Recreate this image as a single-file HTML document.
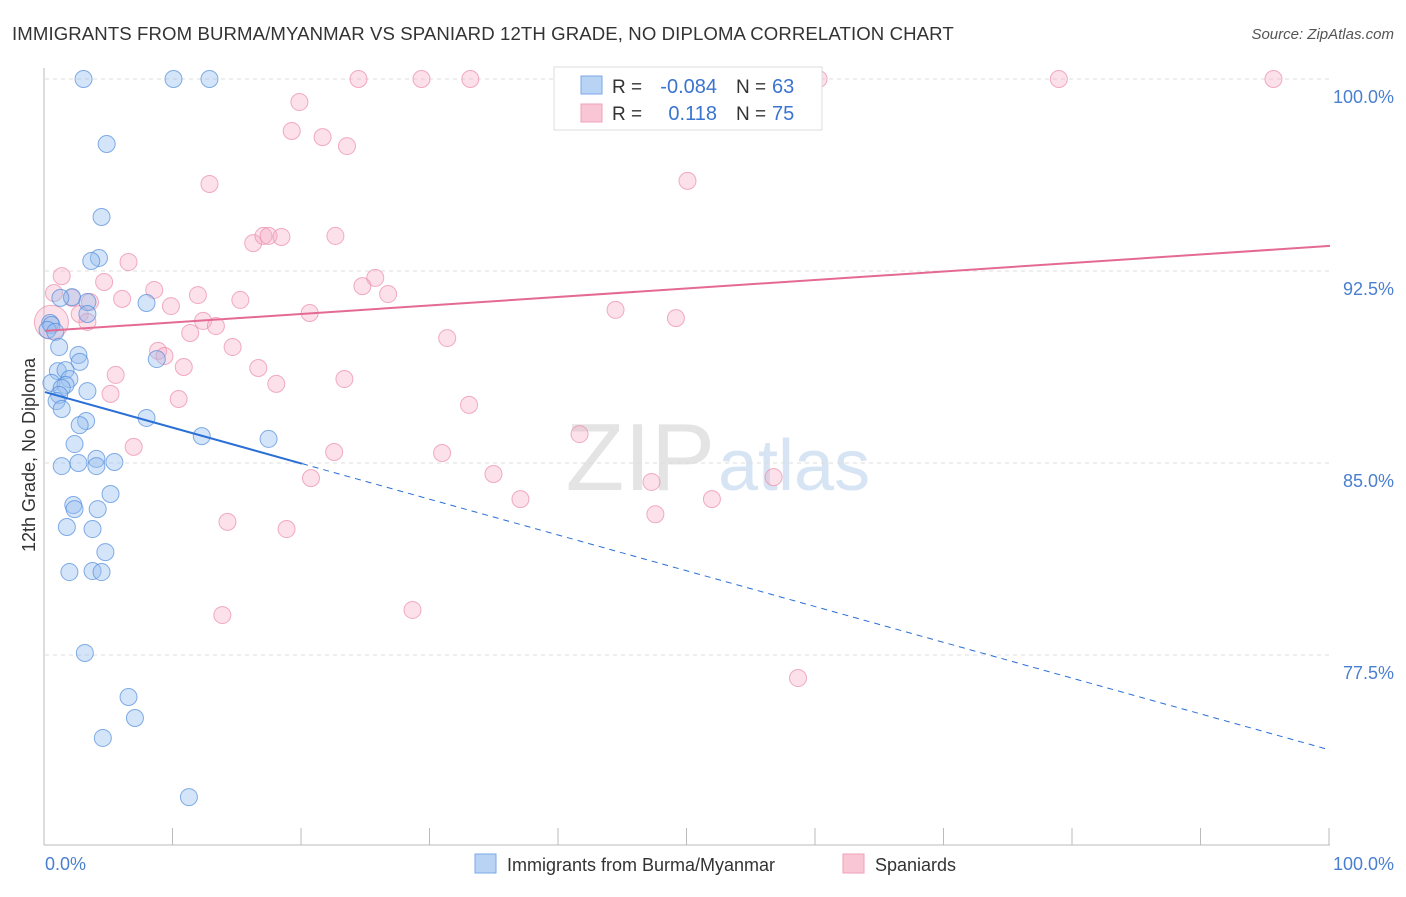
<!DOCTYPE html>
<html><head><meta charset="utf-8"><style>
body{margin:0;background:#fff;font-family:"Liberation Sans",sans-serif;}
svg text{font-family:"Liberation Sans",sans-serif;}
</style></head><body>
<svg id="chart" width="1406" height="892" xmlns="http://www.w3.org/2000/svg">
<text x="12" y="40" font-size="18.6" letter-spacing="0.1" fill="#333">IMMIGRANTS FROM BURMA/MYANMAR VS SPANIARD 12TH GRADE, NO DIPLOMA CORRELATION CHART</text>
<text x="1394" y="39" font-size="15" fill="#555" font-style="italic" text-anchor="end">Source: ZipAtlas.com</text>
<text x="715" y="490" font-size="96" fill="#e4e4e4" text-anchor="end" font-family="Liberation Serif">ZIP</text>
<text x="718" y="490" font-size="72" fill="#d6e4f4">atlas</text>
<g id="grid"></g>
<g id="axes"></g>
<g id="marks"></g>
<text transform="translate(35,455) rotate(-90)" font-size="18" fill="#333" text-anchor="middle">12th Grade, No Diploma</text>
<text x="45" y="870" font-size="18" fill="#4a7fd0">0.0%</text>
<text x="1394" y="870" font-size="18" fill="#4a7fd0" text-anchor="end">100.0%</text>
<g>
<rect x="554" y="67" width="268" height="63" fill="#fff" stroke="#ddd"/>
<rect x="581" y="76" width="21" height="18" fill="#b9d3f5" stroke="#7aa8e8"/>
<rect x="581" y="104" width="21" height="18" fill="#f9c6d6" stroke="#f0a0b8"/>
<text x="612" y="93" font-size="19" fill="#333">R =</text>
<text x="717" y="93" font-size="20" fill="#3a74d0" text-anchor="end">-0.084</text>
<text x="736" y="93" font-size="19" fill="#333">N =</text>
<text x="772" y="93" font-size="20" fill="#3a74d0">63</text>
<text x="612" y="120" font-size="19" fill="#333">R =</text>
<text x="717" y="120" font-size="20" fill="#3a74d0" text-anchor="end">0.118</text>
<text x="736" y="120" font-size="19" fill="#333">N =</text>
<text x="772" y="120" font-size="20" fill="#3a74d0">75</text>
</g>
<g>
<rect x="475" y="854" width="21" height="19" fill="#b9d3f5" stroke="#7aa8e8"/>
<text x="507" y="871" font-size="18" fill="#333">Immigrants from Burma/Myanmar</text>
<rect x="843" y="854" width="21" height="19" fill="#f9c6d6" stroke="#f0a0b8"/>
<text x="875" y="871" font-size="18" fill="#333">Spaniards</text>
</g>
</svg>
<script>
const yTicks=[100,92.5,85,77.5];
const yTickLabels=["100.0%","92.5%","85.0%","77.5%"];
const xTicks=[0,10,20,30,40,50,60,70,80,90,100];
const blueX=[3.0,10.0,12.8,4.8,4.4,4.2,3.6,2.1,1.2,3.3,7.9,3.3,0.4,0.5,0.2,0.8,1.1,2.6,2.7,8.7,1.0,1.6,1.9,0.5,1.6,1.3,3.3,1.1,0.9,1.3,3.2,2.7,7.9,12.2,17.4,2.3,4.0,2.6,5.4,1.3,4.0,5.1,2.2,2.3,4.1,1.7,3.7,4.7,1.9,3.7,4.4,3.1,6.5,7.0,4.5,11.2];
const blueY=[100,100,100,97.46,94.61,93.01,92.89,91.48,91.45,91.29,91.25,90.82,90.47,90.39,90.2,90.12,89.53,89.22,88.95,89.06,88.59,88.63,88.28,88.13,88.05,87.93,87.81,87.66,87.42,87.11,86.64,86.48,86.76,86.05,85.94,85.74,85.16,85.0,85.04,84.88,84.88,83.79,83.36,83.2,83.2,82.5,82.42,81.52,80.74,80.78,80.74,77.58,75.86,75.04,74.26,71.95];
const pinkX=[24.4,29.3,33.1,40.7,60.2,78.9,95.6,19.8,19.2,21.6,23.5,12.8,50.0,16.2,17.0,17.4,18.4,22.6,1.3,6.5,4.6,25.7,24.7,26.7,0.7,2.1,3.5,6.0,8.5,9.8,11.9,15.2,44.4,20.6,2.7,3.3,12.3,13.3,49.1,11.3,31.3,14.6,8.8,9.3,10.8,16.6,5.5,18.0,23.3,5.1,10.4,33.0,41.6,6.9,22.5,30.9,20.7,34.9,47.2,56.7,37.0,51.9,47.5,14.2,18.8,28.6,13.8,58.6,0.5];
const pinkY=[100,100,100,100,100,100,100,99.1,97.97,97.73,97.38,95.9,96.02,93.59,93.87,93.87,93.83,93.87,92.3,92.85,92.07,92.23,91.91,91.6,91.64,91.45,91.29,91.41,91.76,91.13,91.56,91.37,90.98,90.86,90.82,90.51,90.55,90.35,90.66,90.08,89.88,89.53,89.38,89.18,88.75,88.71,88.44,88.09,88.28,87.7,87.5,87.27,86.13,85.63,85.43,85.39,84.41,84.57,84.26,84.45,83.59,83.59,83.0,82.7,82.42,79.26,79.06,76.6,90.5];
const blueTrend=[87.77,73.79];
const blueSolidEnd=20;
const pinkTrend=[90.16,93.48];
const NS="http://www.w3.org/2000/svg";
const xs=v=>45+v*12.85;
const ys=v=>79+(100-v)*25.6;
function mk(tag,attrs,parent){const e=document.createElementNS(NS,tag);for(const k in attrs)e.setAttribute(k,attrs[k]);document.getElementById(parent).appendChild(e);return e;}
yTicks.forEach((t,i)=>{
 const l=mk('line',{x1:45,x2:1330,y1:ys(t),y2:ys(t),stroke:'#ddd','stroke-dasharray':'4,4'},'grid');
 
 
 const tx=mk('text',{x:1394,y:ys(t)+24,'font-size':18,fill:'#4a7fd0','text-anchor':'end'},'grid');
 tx.textContent=yTickLabels[i];
 
 
});
const ax=mk('line',{x1:44,x2:44,y1:68,y2:845,stroke:'#bbb'},'axes');


const bx=mk('line',{x1:44,x2:1330,y1:845,y2:845,stroke:'#bbb'},'axes');


xTicks.forEach(t=>{
 const l=mk('line',{x1:xs(t)-1,x2:xs(t)-1,y1:828,y2:845,stroke:'#bbb'},'axes');
 
 
});
pinkX.forEach((x,i)=>{
 const c=mk('circle',{cx:xs(x),cy:ys(pinkY[i]),r:i==pinkX.length-1?17:8.5,fill:'rgba(246,170,195,0.35)',stroke:'rgba(235,140,170,0.7)','stroke-width':1},'marks');
 
 
});
blueX.forEach((x,i)=>{
 const c=mk('circle',{cx:xs(x),cy:ys(blueY[i]),r:8.5,fill:'rgba(150,190,240,0.4)',stroke:'rgba(80,140,220,0.7)','stroke-width':1},'marks');
 
 
});
const bAt=x=>blueTrend[0]+(blueTrend[1]-blueTrend[0])*x/100;
const b1=mk('line',{x1:xs(0),y1:ys(bAt(0)),x2:xs(blueSolidEnd),y2:ys(bAt(blueSolidEnd)),stroke:'#2a6fd6','stroke-width':2},'marks');


const b2=mk('line',{x1:xs(blueSolidEnd),y1:ys(bAt(blueSolidEnd)),x2:xs(100),y2:ys(bAt(100)),stroke:'#2a6fd6','stroke-width':1,'stroke-dasharray':'6,5'},'marks');


const p1=mk('line',{x1:xs(0),y1:ys(pinkTrend[0]),x2:xs(100),y2:ys(pinkTrend[1]),stroke:'#e46a94','stroke-width':2},'marks');


</script>
</body></html>
